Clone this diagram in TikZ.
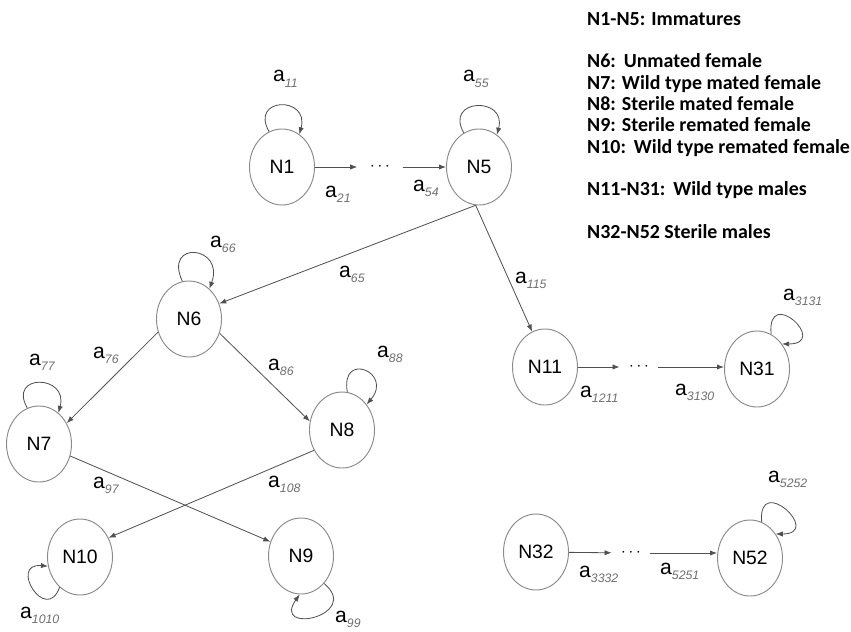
\documentclass[tikz,border=0pt]{standalone}
\usepackage{fontspec}
\setmainfont{Liberation Sans}
\newfontfamily\legendfont{Carlito}
\usetikzlibrary{shapes.geometric,positioning,arrows.meta}
\definecolor{NodeLine}{HTML}{8A8A8A}
\definecolor{EdgeLine}{HTML}{505050}
\definecolor{SubGray}{HTML}{6E6E6E}
\newcommand{\arate}[1]{a\raisebox{-5pt}{\fontsize{10.5}{12}\selectfont\itshape\color{SubGray}#1}}

\begin{document}
\begin{tikzpicture}[x=0.03cm,y=0.03cm,>={Latex[length=6pt,width=4.5pt]}]
  \tikzstyle{state}=[draw=NodeLine,line width=0.8pt,ellipse,
    minimum width=1.95cm,minimum height=2.28cm,inner sep=0pt,
    font=\fontsize{16.5}{18}\selectfont]
  \tikzstyle{flow}=[->,draw=EdgeLine,line width=0.7pt]
  \tikzstyle{rate}=[anchor=base west,inner sep=0pt,
    font=\fontsize{18}{19}\selectfont]
  \tikzstyle{dotsbox}=[inner sep=0pt,minimum width=1.15cm,
    font=\fontsize{14}{16}\selectfont]
  \useasboundingbox (0,0) rectangle (851,631);

  % legend
  \node[anchor=north west,inner sep=0pt,align=left,
    font=\legendfont\bfseries\fontsize{17}{18.2}\selectfont] (legend) at (587,619)
    {N1-N5: Immatures\\[18.2pt]
     N6:\ \,Unmated female\\
     N7: Wild type mated female\\
     N8: Sterile mated female\\
     N9: Sterile remated female\\
     N10:\ \,Wild type remated female\\[18.2pt]
     N11-N31:\ \,Wild type males\\[18.2pt]
     N32-N52 Sterile males};

  % states
  \node[state] (n1) at (282,464) {N1};
  \node[state] (n5) at (479,464) {N5};
  \node[state] (n6) at (189,312) {N6};
  \node[state] (n7) at (39,187) {N7};
  \node[state] (n8) at (342,201) {N8};
  \node[state] (n9) at (301,75) {N9};
  \node[state] (n10) at (80,74) {N10};
  \node[state] (n11) at (545,264) {N11};
  \node[state] (n31) at (757,262) {N31};
  \node[state] (n32) at (536,79) {N32};
  \node[state] (n52) at (750,73) {N52};
  \node[dotsbox,minimum width=1.35cm] (d1) at (380,464) {$\cdots$};
  \node[dotsbox] (d11) at (639,264) {$\cdots$};
  \node[dotsbox] (d32) at (631,78) {$\cdots$};

  % transitions
  \draw[flow] (n1) -- (d1);
  \draw[flow] (d1) -- (n5);
  \draw[flow] (n5.265) -- (n6.27);
  \draw[flow] (n5.265) -- (n11.110);
  \draw[flow] (n6.203) -- (n7.37);
  \draw[flow] (n6.-25) -- (n8.165);
  \draw[flow] (n7.-21) -- (n9.155);
  \draw[flow] (n8.216) -- (n10.34);
  \draw[flow] (n11) -- (d11);
  \draw[flow] (d11.east) -- (d11.east -| n31.west);
  \draw[flow] (n32) -- (d32);
  \draw[flow] (d32.east) -- (d32.east -| n52.west);

  % self loops
  \draw[flow] (n1.110) .. controls +(120:40) and +(75:40) .. (n1.62);
  \draw[flow] (n5.114) .. controls +(120:40) and +(75:40) .. (n5.61);
  \draw[flow] (n6.100) .. controls +(115:46) and +(70:46) .. (n6.56);
  \draw[flow] (n7.108) .. controls +(120:40) and +(75:40) .. (n7.58);
  \draw[flow] (n8.82) .. controls +(100:42) and +(50:42) .. (n8.46);
  \draw[flow] (n10.236) .. controls +(250:40) and +(175:40) .. (n10.196);
  \draw[flow] (n9.-50) .. controls +(-40:50) and +(235:50) .. (n9.268);
  \draw[flow] (n31.68) .. controls +(95:50) and +(0:48) .. (n31.45);
  \draw[flow] (n52.72) .. controls +(95:50) and +(0:48) .. (n52.43);

  % rates
  \node[rate] (r11) at (273,549) {\arate{11}};
  \node[rate] (r55) at (463,549) {\arate{55}};
  \node[rate] (r21) at (325,434) {\arate{21}};
  \node[rate] (r54) at (413,440) {\arate{54}};
  \node[rate] (r65) at (339,354) {\arate{65}};
  \node[rate] (r115) at (515,348) {\arate{115}};
  \node[rate] (r66) at (210,384) {\arate{66}};
  \node[rate] (r76) at (93,273) {\arate{76}};
  \node[rate] (r77) at (29,266) {\arate{77}};
  \node[rate] (r86) at (268,261) {\arate{86}};
  \node[rate] (r88) at (377,274) {\arate{88}};
  \node[rate] (r97) at (93,143) {\arate{97}};
  \node[rate] (r108) at (268,144) {\arate{108}};
  \node[rate] (r1010) at (20,13) {\arate{1010}};
  \node[rate] (r99) at (335,9) {\arate{99}};
  \node[rate] (r1211) at (580,234) {\arate{1211}};
  \node[rate] (r3130) at (675,236) {\arate{3130}};
  \node[rate] (r3131) at (783,331) {\arate{3131}};
  \node[rate] (r3332) at (579,54) {\arate{3332}};
  \node[rate] (r5251) at (660,57) {\arate{5251}};
  \node[rate] (r5252) at (768,149) {\arate{5252}};
\end{tikzpicture}
\end{document}
